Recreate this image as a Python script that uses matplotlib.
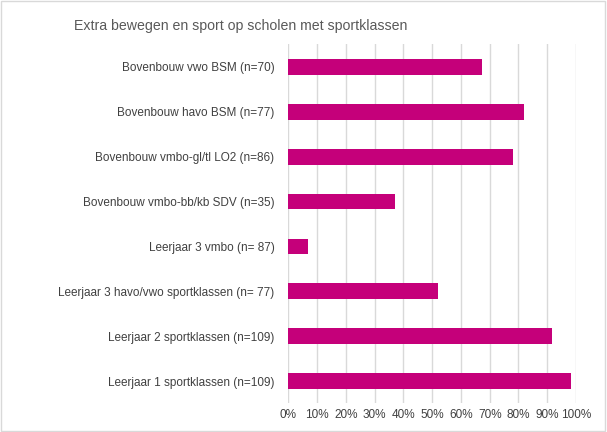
import matplotlib.pyplot as plt
from matplotlib.ticker import PercentFormatter
from matplotlib.patches import Rectangle

plt.rcParams['font.family'] = ['Liberation Sans', 'DejaVu Sans']

categories = [
    'Bovenbouw vwo BSM (n=70)',
    'Bovenbouw havo BSM (n=77)',
    'Bovenbouw vmbo-gl/tl LO2 (n=86)',
    'Bovenbouw vmbo-bb/kb SDV (n=35)',
    'Leerjaar 3 vmbo (n= 87)',
    'Leerjaar 3 havo/vwo sportklassen (n= 77)',
    'Leerjaar 2 sportklassen (n=109)',
    'Leerjaar 1 sportklassen (n=109)',
]
values = [0.672, 0.819, 0.78, 0.371, 0.068, 0.519, 0.916, 0.983]

fig = plt.figure(figsize=(6.07, 4.32), dpi=100)
ax = fig.add_axes([0.475, 0.066, 0.474, 0.831])

ypos = list(range(len(categories)))
ax.barh(ypos, values, height=0.35, color='#C5007A', zorder=3)
ax.set_yticks(ypos)
ax.set_yticklabels(categories)
ax.set_ylim(len(categories) - 0.5, -0.5)

ax.set_xlim(0, 1)
ax.set_xticks([i / 10 for i in range(11)])
ax.xaxis.set_major_formatter(PercentFormatter(1.0, decimals=0))
ax.grid(axis='x', color='#D9D9D9', linewidth=1, zorder=0)

for s in ax.spines.values():
    s.set_visible(False)
ax.tick_params(axis='both', length=0, labelsize=8.5, colors='#404040')
ax.tick_params(axis='y', pad=10)
ax.tick_params(axis='x', pad=4)

# title is drawn a bit condensed in the original
fig.text(0.396, 0.94, 'Extra bewegen en sport op scholen met sportklassen',
         ha='center', va='center', fontsize=10.2, color='#595959')

fig.patches.append(Rectangle((0.002, 0.002), 0.995, 0.995, transform=fig.transFigure,
                             fill=False, edgecolor='#D9D9D9', linewidth=1))

fig.savefig('out.png', dpi=100)
